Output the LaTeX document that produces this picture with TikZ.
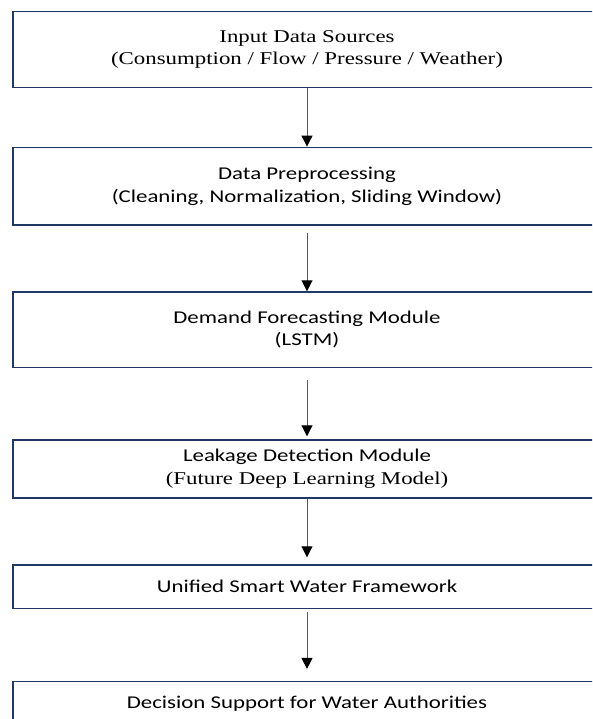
\documentclass[tikz,border=0pt]{standalone}
\usepackage{fontspec}
\usepackage{tikz}
\usetikzlibrary{arrows.meta,shapes}
\newfontfamily\calfont[FakeStretch=1.27]{Carlito}
\newfontfamily\timesfont[FakeStretch=1.27]{Liberation Serif}
\definecolor{boxblue}{RGB}{31,56,100}
\definecolor{linegray}{RGB}{89,89,89}

\begin{document}
\begin{tikzpicture}[x=1pt, y=1pt, box node/.style={draw=boxblue, line width=1.5pt, minimum width=588pt, inner sep=0pt, align=center, font=\calfont\fontsize{18}{22.5}\selectfont}, flow/.style={-{Triangle[length=11pt,width=11pt,color=black]}, draw=linegray, line width=0.9pt}]
\useasboundingbox (0,0) rectangle (592,-719);
\clip (0,0) rectangle (592,-719);
\node[box node, minimum height=76pt, font=\timesfont\fontsize{18}{22.5}\selectfont] (input) at (307,-49.7) {Input Data Sources\\(Consumption / Flow / Pressure / Weather)};
\node[box node, minimum height=77.7pt] (prep) at (307,-186.2) {Data Preprocessing\\(Cleaning, Normalization, Sliding Window)};
\node[box node, minimum height=75.3pt] (lstm) at (307,-329.7) {Demand Forecasting Module\\(LSTM)};
\node[box node, minimum height=57.7pt] (leak) at (307,-468.9) {Leakage Detection Module\\{\timesfont\fontsize{18}{22.5}\selectfont(Future Deep Learning Model)}};
\node[box node, minimum height=43.3pt] (unified) at (307,-586.7) {Unified Smart Water Framework};
\node[box node, minimum height=43.3pt] (decision) at (307,-703.3) {Decision Support for Water Authorities};
\path[flow]
(input) edge (prep)
(prep) edge[shorten <=7pt] (lstm)
(lstm) edge[shorten <=12pt, shorten >=3pt] (leak)
(leak) edge[shorten >=7pt] (unified)
(unified) edge[shorten <=3pt, shorten >=12pt] (decision);
\end{tikzpicture}
\end{document}
